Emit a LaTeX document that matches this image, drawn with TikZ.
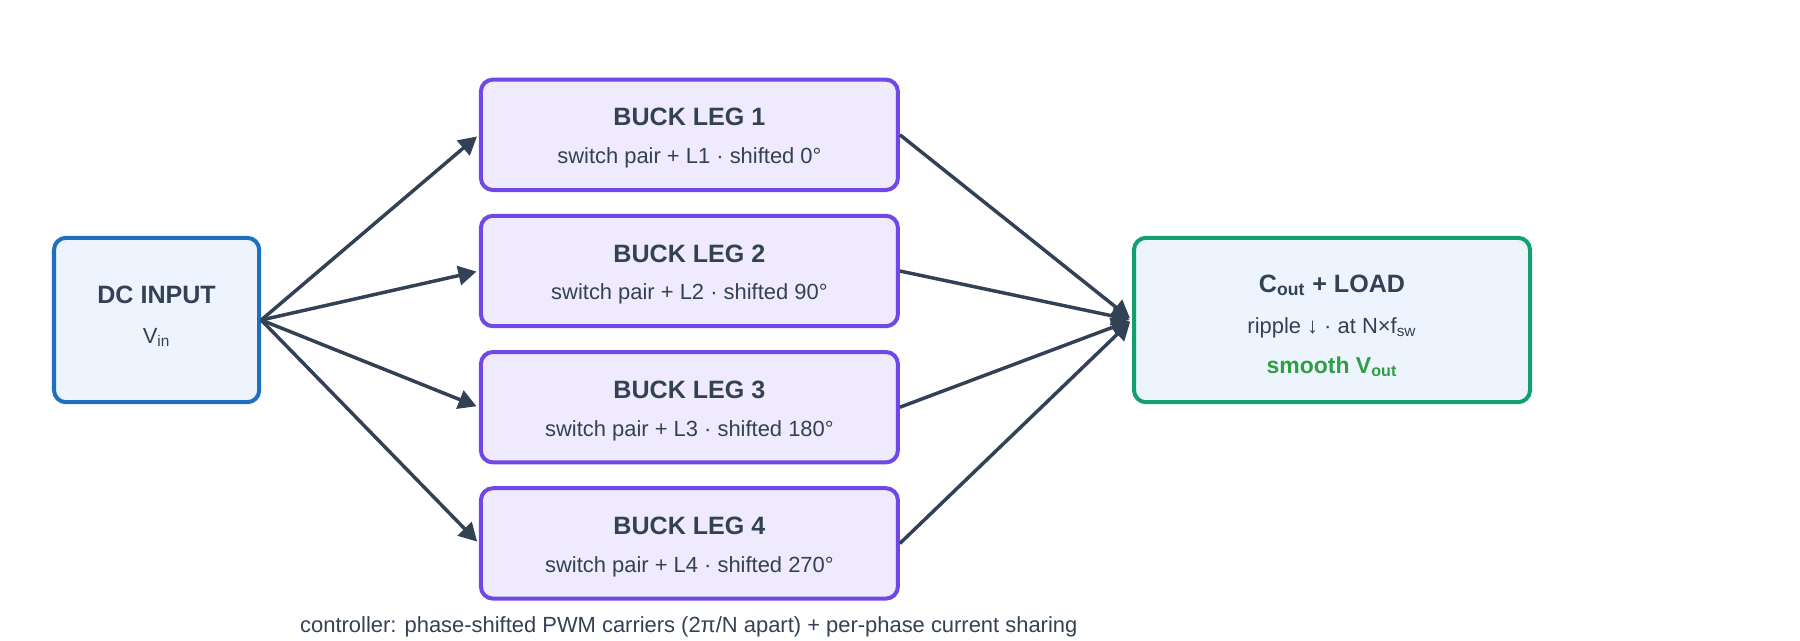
\documentclass[tikz,border=0pt]{standalone}
\usepackage{fontspec}
\setmainfont{Liberation Sans}
\usetikzlibrary{arrows.meta,positioning}

\definecolor{ink}{HTML}{334155}
\definecolor{inblue}{HTML}{1F6FBF}
\definecolor{infill}{HTML}{EEF4FE}
\definecolor{legline}{HTML}{7048E8}
\definecolor{legfill}{HTML}{F0EBFC}
\definecolor{outgreen}{HTML}{12A071}
\definecolor{smoothgreen}{HTML}{2F9E44}

\tikzset{
  box/.style={rounded corners=0.2cm, line width=1.9pt, inner sep=0pt},
  legbox/.style={box, draw=legline, fill=legfill, minimum width=6.95cm, minimum height=1.84cm},
  ttl/.style={anchor=base, font=\fontsize{11.9}{14}\selectfont\bfseries, text=ink},
  sub/.style={anchor=base, font=\fontsize{10.4}{12}\selectfont, text=ink},
  feed/.style={draw=ink, line width=1.65pt, shorten >=1.2pt, -{Triangle[length=0.3cm,width=0.32cm]}},
}

\begin{document}
\begin{tikzpicture}
  \useasboundingbox (0,0) rectangle (30,10.667);
  % source and sink
  \node[box, draw=inblue, fill=infill, minimum width=3.42cm, minimum height=2.74cm] (dc) at (2.61,5.333) {};
  \node[box, draw=outgreen, fill=infill, minimum width=6.6cm, minimum height=2.74cm] (load) at (22.2,5.333) {};
  % the four interleaved legs
  \node[legbox] (leg1) at (11.49,8.42) {};
  \node[legbox] (leg2) at (11.49,6.15) {};
  \node[legbox] (leg3) at (11.49,3.88) {};
  \node[legbox] (leg4) at (11.49,1.61) {};

  \node[ttl] (dct) at ([yshift=0.283cm]dc.center) {DC INPUT};
  \node[sub] (dcs) at ([yshift=-0.383cm]dc.center) {V\textsubscript{in}};

  \node[ttl] (l1t) at ([yshift=0.15cm]leg1.center) {BUCK LEG 1};
  \node[sub] (l1s) at ([yshift=-0.483cm]leg1.center) {switch pair + L1 · shifted 0°};
  \node[ttl] (l2t) at ([yshift=0.15cm]leg2.center) {BUCK LEG 2};
  \node[sub] (l2s) at ([yshift=-0.483cm]leg2.center) {switch pair + L2 · shifted 90°};
  \node[ttl] (l3t) at ([yshift=0.15cm]leg3.center) {BUCK LEG 3};
  \node[sub] (l3s) at ([yshift=-0.483cm]leg3.center) {switch pair + L3 · shifted 180°};
  \node[ttl] (l4t) at ([yshift=0.15cm]leg4.center) {BUCK LEG 4};
  \node[sub] (l4s) at ([yshift=-0.483cm]leg4.center) {switch pair + L4 · shifted 270°};

  \node[ttl] (ldt) at ([yshift=0.467cm]load.center) {C\textsubscript{out} + LOAD};
  \node[sub] (lds) at ([yshift=-0.217cm]load.center) {ripple ↓ · at N×f\textsubscript{sw}};
  \node[ttl, text=smoothgreen, font=\fontsize{10.9}{13}\selectfont\bfseries] (ldv) at ([yshift=-0.883cm]load.center) {smooth V\textsubscript{out}};

  % fan out / fan in
  \draw[feed] (dc.east) -- (leg1.west);
  \draw[feed] (dc.east) -- (leg2.west);
  \draw[feed] (dc.east) -- (leg3.west);
  \draw[feed] (dc.east) -- (leg4.west);
  \draw[feed] (leg1.east) -- (load.west);
  \draw[feed] (leg2.east) -- (load.west);
  \draw[feed] (leg3.east) -- (load.west);
  \draw[feed] (leg4.east) -- (load.west);

  \node[sub] (ctrl) at (11.48,0.13) {controller: phase-shifted PWM carriers (2π/N apart) + per-phase current sharing};
\end{tikzpicture}
\end{document}
